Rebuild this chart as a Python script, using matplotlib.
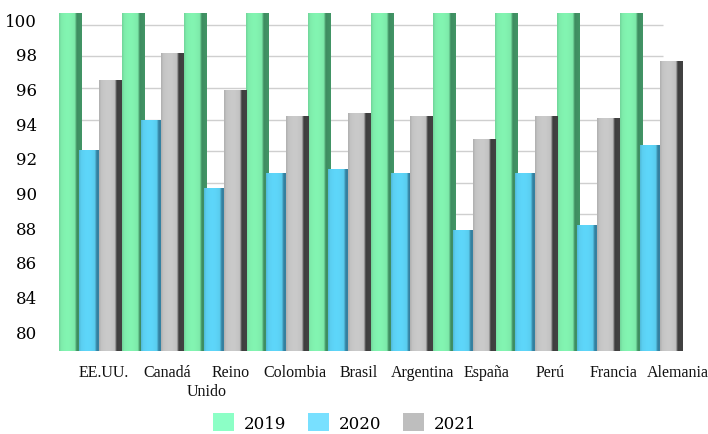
import numpy as np
import matplotlib
matplotlib.use("Agg")
import matplotlib.pyplot as plt
from matplotlib.patches import Patch
from matplotlib.colors import to_rgb
from matplotlib.transforms import offset_copy

categories = ["EE.UU.", "Canadá", "Reino Unido", "Colombia", "Brasil",
              "Argentina", "España", "Perú", "Francia", "Alemania"]
series_names = ["2019", "2020", "2021"]
v2019 = [100.75, 100.75, 100.75, 100.75, 100.75, 100.75, 100.75, 100.75, 100.75, 100.75]
v2020 = [92.1, 94.0, 89.7, 90.6, 90.9, 90.6, 87.0, 90.6, 87.3, 92.4]
v2021 = [96.5, 98.2, 95.9, 94.2, 94.4, 94.2, 92.8, 94.2, 94.1, 97.7]
ytick_labels = ["100", "98", "96", "94", "92", "90", "88", "86", "84", "80"]
grid_values = list(range(80, 101, 2))

front_colors = ["#80F0AE", "#5CD2F5", "#C6C6C6"]
side_colors = ["#3E8C60", "#347F9E", "#3E3E3E"]
legend_colors = ["#8CFFC6", "#78E0FF", "#BEBEBE"]

fig = plt.figure(figsize=(7.08, 4.35), dpi=100)
ax = fig.add_axes([58 / 708, 83 / 435, (682 - 58) / 708, (352 - 14) / 435])
ymin, ymax = 79.35, 100.75

x = np.arange(len(categories))
offsets = [-0.32, 0.0, 0.32]
width = 0.36


def profile(front, side, n=64):
    fr = np.array(to_rgb(front))
    sd = np.array(to_rgb(side))
    t = np.linspace(0, 1, n)
    img = np.zeros((1, n, 3))
    for i, tt in enumerate(t):
        if tt < 0.05:
            c = fr * 0.9
        elif tt < 0.70:
            c = fr * (0.97 + 0.05 * np.sin(np.pi * (tt - 0.05) / 0.65))
        elif tt < 0.78:
            a = (tt - 0.70) / 0.08
            c = fr * (1 - a) * 0.92 + sd * a
        else:
            c = sd * (1.0 + 0.3 * (tt - 0.78))
        img[0, i] = np.clip(c, 0, 1)
    return img


for k, vals in enumerate([v2019, v2020, v2021]):
    heights = np.array(vals) - ymin
    bars = ax.bar(x + offsets[k], heights, width=width, bottom=ymin,
                  color="none", edgecolor="none", zorder=2 + k)
    img = profile(front_colors[k], side_colors[k])
    for b in bars:
        x0, w = b.get_x(), b.get_width()
        y0, h = b.get_y(), b.get_height()
        im = ax.imshow(img, extent=(x0, x0 + w, y0, y0 + h), aspect="auto",
                       zorder=2 + k, interpolation="bilinear")
        im.set_clip_path(b)

# gridlines (back wall)
ax.hlines(grid_values, -0.5, 9.2, colors="#CFCFCF", linewidth=1.0, zorder=1)

ax.set_xlim(-0.52, 9.5)
ax.set_ylim(ymin, ymax)
for s in ax.spines.values():
    s.set_visible(False)
ax.set_xticks([])

ypos = np.linspace(100.35, 80.6, len(ytick_labels))
ax.set_yticks(ypos, ytick_labels)
ax.tick_params(axis="y", length=0, pad=15)
for lab in ax.get_yticklabels():
    lab.set_fontfamily("DejaVu Serif")
    lab.set_fontsize(12)

# category labels
lab_trans = offset_copy(ax.get_xaxis_transform(), fig=fig, x=0, y=-21, units="dots")
for i, name in enumerate(categories):
    lx = i * 1.024 + 0.21
    words = name.split(" ")
    ax.text(lx, 0, words[0], transform=lab_trans, ha="center", va="center",
            fontfamily="Liberation Serif", fontsize=11.5, color="#111111")
    if len(words) > 1:
        t2 = offset_copy(ax.get_xaxis_transform(), fig=fig, x=-24, y=-40, units="dots")
        ax.text(lx, 0, " ".join(words[1:]), transform=t2, ha="center", va="center",
                fontfamily="Liberation Serif", fontsize=11.5, color="#111111")

handles = [Patch(facecolor=c, edgecolor="none", label=n)
           for c, n in zip(legend_colors, series_names)]
leg = fig.legend(handles=handles, loc="center", bbox_to_anchor=(0.487, 0.026),
                 ncol=3, frameon=False, handlelength=1.25, handleheight=1.25,
                 handletextpad=0.6, columnspacing=1.3,
                 prop={"family": "DejaVu Serif", "size": 12})

fig.savefig("out.png", dpi=100)
